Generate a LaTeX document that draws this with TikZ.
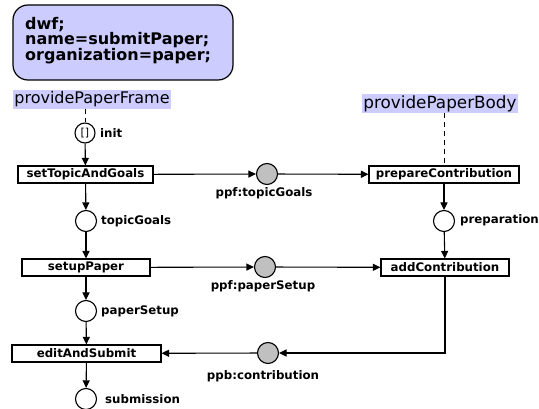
\documentclass[tikz,border=0pt]{standalone}
\usepackage{fontspec}
\setmainfont{DejaVu Sans}
\usetikzlibrary{arrows.meta}
\definecolor{lav}{HTML}{CCCCFF}
\definecolor{tok}{HTML}{C0C0C0}
\tikzset{
  x=1pt,y=-1pt,
  every node/.style={font=\bfseries\fontsize{11.8}{13}\selectfont},
  task/.style={draw,fill=white,minimum height=17pt,inner sep=0pt,line width=1.1pt},
  place/.style={draw,circle,fill=white,minimum size=21pt,inner sep=0pt,line width=1.1pt},
  gplace/.style={place,fill=tok},
  lbl/.style={anchor=west,inner sep=0pt},
  blbl/.style={inner sep=0pt},
  part/.style={fill=lav,inner sep=1.5pt,font=\fontsize{16}{18}\selectfont},
  flow/.style={line width=1.1pt,-{Triangle[length=7.5pt,width=7pt]}},
  dashline/.style={line width=1pt,dash pattern=on 5pt off 4pt}
}
\begin{document}
\begin{tikzpicture}
\useasboundingbox (0,0) rectangle (539,409);
\node[draw,fill=lav,rounded corners=15pt,line width=1.2pt,minimum width=220pt,minimum height=75pt,inner sep=0pt] (head) at (123,42.5) {};
\node[anchor=north west,align=left,inner sep=0pt,font=\bfseries\fontsize{16}{15.5}\selectfont] (headtxt) at (25,17) {dwf;\\name=submitPaper;\\organization=paper;};
\node[part] (pf) at (92,99.5) {providePaperFrame};
\node[part,font=\fontsize{16.8}{18}\selectfont] (pb) at (440,103.5) {providePaperBody};
\node[place,minimum size=20pt,font=\fontsize{11}{12}\selectfont] (init) at (85,133) {[]};
\node[lbl] (initl) at (100,133) {init};
\node[task,minimum width=135pt] (stg) at (85.5,174.5) {setTopicAndGoals};
\node[place] (tg) at (86,221) {};
\node[lbl] (tgl) at (101,221) {topicGoals};
\node[task,minimum width=128pt] (sp) at (86,267.5) {setupPaper};
\node[place] (ps) at (86,311) {};
\node[lbl] (psl) at (101,311) {paperSetup};
\node[task,minimum width=149pt] (eas) at (86.5,353.5) {editAndSubmit};
\node[place] (sub) at (86,399) {};
\node[lbl] (subl) at (105,399) {submission};
\node[gplace] (g1) at (267,174) {};
\node[blbl] (g1l) at (264,193) {ppf:topicGoals};
\node[gplace] (g2) at (265,267) {};
\node[blbl] (g2l) at (263,286) {ppf:paperSetup};
\node[gplace] (g3) at (268,353) {};
\node[blbl] (g3l) at (263,376) {ppb:contribution};
\node[task,minimum width=150pt] (pc) at (444,174.5) {prepareContribution};
\node[place] (prep) at (444,221) {};
\node[lbl] (prepl) at (460,220) {preparation};
\node[task,minimum width=128pt] (ac) at (445,267.5) {addContribution};
\coordinate (corner) at (ac.south |- g3);
\draw[dashline] (pf.south -| init) -- (init.north);
\draw[dashline] (pb.south -| pc) -- (pc.north);
\draw[flow] (init) -- (stg);
\draw[flow] (stg) -- (tg);
\draw[flow] (tg) -- (sp);
\draw[flow] (sp) -- (ps);
\draw[flow] (ps) -- (eas);
\draw[flow] (eas) -- (sub);
\draw[flow] (stg) -- (g1);
\draw[flow] (g1) -- (pc);
\draw[flow] (sp) -- (g2);
\draw[flow] (g2) -- (ac);
\draw[flow] (pc) -- (prep);
\draw[flow] (prep) -- (ac);
\draw[flow] (ac.south) -- (corner) -- (g3);
\draw[flow] (g3) -- (eas);
\end{tikzpicture}
\end{document}
